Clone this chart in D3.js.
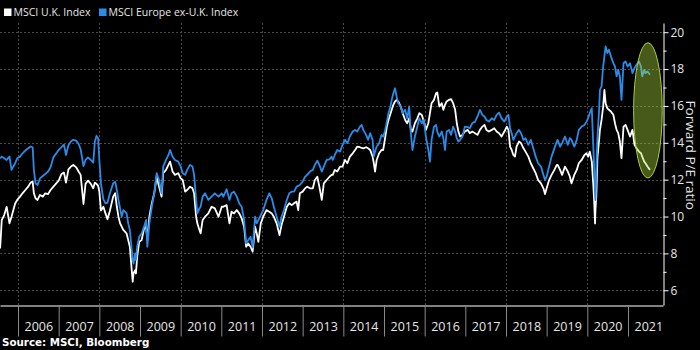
<!DOCTYPE html>
<html><head><meta charset="utf-8">
<script src="https://cdn.jsdelivr.net/npm/d3@7"></script>
<style>
html,body{margin:0;padding:0;background:#000;}
svg{display:block;}
</style></head><body>
<svg id="chart" width="700" height="350"></svg>
<script>
// ---- data (decimal years, forward P/E) ----
const dates = [2005.56,2005.60,2005.66,2005.72,2005.79,2005.84,2005.93,2005.98,2006.05,2006.11,2006.18,2006.25,2006.31,2006.36,2006.39,2006.43,2006.48,2006.54,2006.61,2006.67,2006.74,2006.80,2006.87,2006.93,2007.00,2007.07,2007.13,2007.18,2007.24,2007.30,2007.36,2007.43,2007.49,2007.54,2007.61,2007.66,2007.72,2007.79,2007.85,2007.89,2007.93,2007.97,2008.00,2008.04,2008.10,2008.15,2008.20,2008.26,2008.34,2008.39,2008.43,2008.47,2008.51,2008.55,2008.59,2008.63,2008.67,2008.71,2008.75,2008.79,2008.82,2008.84,2008.88,2008.90,2008.93,2008.98,2009.04,2009.10,2009.15,2009.18,2009.23,2009.29,2009.35,2009.41,2009.47,2009.53,2009.57,2009.64,2009.70,2009.74,2009.80,2009.86,2009.94,2010.00,2010.05,2010.11,2010.16,2010.23,2010.29,2010.33,2010.38,2010.41,2010.46,2010.49,2010.54,2010.60,2010.68,2010.76,2010.84,2010.93,2011.01,2011.05,2011.13,2011.20,2011.25,2011.31,2011.38,2011.44,2011.50,2011.56,2011.61,2011.66,2011.72,2011.77,2011.83,2011.87,2011.91,2011.97,2012.03,2012.11,2012.18,2012.24,2012.29,2012.36,2012.43,2012.48,2012.54,2012.61,2012.67,2012.73,2012.79,2012.85,2012.89,2012.93,2013.00,2013.06,2013.11,2013.18,2013.25,2013.30,2013.36,2013.41,2013.47,2013.52,2013.59,2013.66,2013.71,2013.74,2013.79,2013.85,2013.92,2013.98,2014.04,2014.10,2014.16,2014.23,2014.29,2014.34,2014.41,2014.45,2014.49,2014.56,2014.61,2014.66,2014.72,2014.75,2014.78,2014.82,2014.88,2014.94,2014.98,2015.02,2015.07,2015.11,2015.15,2015.19,2015.23,2015.27,2015.31,2015.35,2015.41,2015.46,2015.52,2015.57,2015.62,2015.66,2015.70,2015.76,2015.82,2015.87,2015.93,2015.98,2016.03,2016.09,2016.13,2016.17,2016.23,2016.28,2016.31,2016.36,2016.42,2016.46,2016.50,2016.54,2016.60,2016.65,2016.70,2016.75,2016.79,2016.83,2016.87,2016.93,2016.99,2017.06,2017.11,2017.17,2017.24,2017.30,2017.36,2017.42,2017.47,2017.52,2017.58,2017.65,2017.71,2017.77,2017.83,2017.89,2017.96,2018.02,2018.06,2018.10,2018.14,2018.18,2018.22,2018.26,2018.32,2018.37,2018.43,2018.48,2018.55,2018.61,2018.67,2018.73,2018.79,2018.86,2018.92,2018.96,2019.00,2019.06,2019.12,2019.19,2019.25,2019.27,2019.33,2019.38,2019.45,2019.52,2019.57,2019.61,2019.68,2019.74,2019.79,2019.86,2019.93,2019.98,2020.02,2020.06,2020.11,2020.15,2020.17,2020.19,2020.20,2020.22,2020.25,2020.29,2020.31,2020.35,2020.39,2020.42,2020.45,2020.49,2020.53,2020.58,2020.64,2020.68,2020.72,2020.76,2020.80,2020.84,2020.89,2020.94,2020.99,2021.05,2021.11,2021.16,2021.21,2021.27,2021.32,2021.35,2021.40,2021.43,2021.48,2021.54];

const ukPE = [8.27,9.81,10.08,10.53,9.63,9.99,10.71,10.90,11.08,11.26,11.44,11.62,11.84,11.89,11.26,10.99,10.90,11.17,11.08,11.26,11.22,11.44,11.62,11.77,11.95,12.31,12.38,11.84,12.56,12.71,12.80,12.67,12.44,12.26,10.68,11.77,11.95,11.77,11.53,11.84,11.77,11.66,11.35,10.32,10.53,10.17,9.85,10.32,11.08,11.26,10.53,9.99,9.63,9.45,9.27,9.18,9.08,8.72,8.36,7.27,6.46,6.91,7.09,6.91,7.82,8.63,8.72,9.36,9.45,8.72,9.99,10.71,11.26,12.16,11.62,11.08,12.35,12.53,12.80,12.98,12.44,12.26,12.35,12.07,11.98,11.35,11.44,11.62,11.53,11.26,9.99,9.63,9.27,9.09,9.81,9.99,10.17,10.53,10.44,9.99,10.53,10.53,10.62,9.63,10.26,10.17,10.35,10.17,9.90,9.45,8.36,8.54,8.36,8.09,9.45,9.09,8.63,9.63,9.99,10.35,10.26,10.17,9.99,9.63,8.99,9.54,9.99,10.53,10.72,10.62,10.72,10.81,10.35,11.26,11.35,11.53,11.62,11.53,11.53,11.98,12.16,11.62,10.90,11.80,11.98,12.16,12.26,12.26,12.53,12.44,12.71,12.71,13.07,12.89,13.25,13.43,13.61,13.79,13.76,13.72,13.70,13.76,13.70,13.61,13.25,12.89,12.44,13.07,13.43,13.61,13.61,14.16,14.88,15.24,15.51,15.79,16.06,16.24,16.33,16.24,15.97,15.61,15.24,15.06,15.33,14.70,14.61,15.06,15.33,15.61,15.51,15.15,14.70,15.06,15.61,16.15,16.33,16.69,16.73,15.97,16.15,15.79,16.06,16.24,16.33,16.37,16.15,15.79,15.06,14.61,14.34,14.43,14.61,14.70,14.52,14.61,14.52,14.43,14.70,14.88,14.97,14.70,14.61,14.70,14.79,14.61,14.52,14.34,14.61,14.88,14.70,13.79,13.61,13.34,13.25,13.79,14.07,13.98,13.70,13.52,13.25,12.89,12.62,12.35,11.98,11.80,11.53,11.22,11.53,11.98,12.26,12.53,12.80,12.80,12.53,12.26,12.71,12.44,12.17,11.80,12.26,12.53,12.89,13.07,13.34,13.43,13.25,13.52,12.98,11.62,10.72,9.63,10.35,11.08,13.25,14.16,14.70,15.24,15.97,16.87,16.15,15.88,15.79,15.70,15.52,15.06,14.70,14.52,14.07,13.16,14.88,14.97,14.70,14.34,14.70,13.89,13.70,13.52,13.43,13.25,12.98,12.89,12.71,12.53];

const europePE = [13.16,13.25,13.16,13.07,13.25,12.53,12.89,13.16,13.25,13.43,13.58,13.70,13.80,13.76,12.53,11.80,11.71,12.07,12.20,12.31,12.44,12.67,13.21,13.40,13.61,13.76,13.90,13.34,13.87,14.07,14.16,14.12,13.94,13.65,12.74,13.07,13.21,13.07,12.93,14.07,14.37,14.25,13.07,11.77,10.93,10.71,10.75,11.26,11.80,11.89,11.44,10.90,10.44,9.99,10.35,10.26,10.17,9.63,9.27,8.36,7.64,7.45,8.00,7.64,8.36,8.90,9.08,9.45,9.81,8.36,9.63,10.53,11.26,12.35,11.98,11.26,12.71,13.07,13.34,13.61,13.25,13.07,12.98,12.71,12.35,12.26,12.53,12.80,12.71,12.26,10.90,10.17,10.44,10.53,11.08,11.26,10.90,11.08,11.26,11.08,11.26,11.08,11.48,10.90,11.26,11.35,11.08,10.71,10.53,9.81,8.54,8.72,8.90,8.32,9.99,9.63,9.81,10.08,10.35,10.90,11.26,10.99,10.53,9.99,9.45,9.99,10.35,10.90,11.26,11.35,11.35,11.62,11.66,11.71,11.89,12.16,12.26,12.44,12.53,12.80,13.03,12.80,12.44,12.71,13.07,13.10,13.25,13.07,13.34,13.61,13.52,13.89,14.16,13.98,14.34,14.61,14.70,14.61,14.88,14.97,14.70,14.43,14.16,14.52,14.16,13.25,13.52,13.80,13.98,14.43,14.34,14.61,15.15,15.61,15.88,16.33,16.69,16.96,16.51,16.15,15.97,15.61,15.79,15.33,15.97,14.52,13.61,14.34,14.88,15.33,15.06,15.24,14.34,13.61,12.98,14.16,14.88,14.97,14.61,14.34,14.61,14.25,13.61,14.61,14.70,14.43,14.88,14.61,14.25,14.07,14.16,14.34,14.88,14.85,14.79,15.06,15.15,15.43,15.79,15.51,15.43,15.24,15.15,15.33,15.24,15.51,15.64,15.33,15.15,15.43,15.51,14.79,14.52,14.16,14.34,14.52,14.70,14.52,14.16,14.25,13.89,14.16,13.70,13.25,12.89,12.71,12.26,11.98,12.16,12.71,13.25,13.70,14.07,14.16,13.79,13.98,14.34,13.89,14.25,14.16,13.79,14.16,14.70,14.88,14.97,15.15,15.34,15.61,15.88,13.61,12.53,11.44,10.90,12.53,14.34,15.79,16.87,17.06,18.14,18.69,19.23,18.87,19.05,18.69,18.32,18.14,17.60,17.96,17.60,16.33,18.32,18.41,18.14,18.32,17.78,18.05,18.23,18.41,18.14,17.60,17.96,17.78,17.87,17.69];

const seriesNames = ["MSCI U.K. Index", "MSCI Europe ex-U.K. Index"];
const seriesColors = ["#ffffff", "#2a8ce8"];
const yearLabels = [2006,2007,2008,2009,2010,2011,2012,2013,2014,2015,2016,2017,2018,2019,2020,2021];
const gridYears = [2006,2008,2010,2012,2014,2016,2018,2020];
const yTicks = [6,8,10,12,14,16,18,20];
const yMinorTicks = [7,9,11,13,15,17,19];
const yTitle = "Forward P/E ratio";
const sourceText = "Source: MSCI, Bloomberg";
// highlighted region (date centre, date half-width, value range)
const highlightDate = 2021.49, highlightHalfWidth = 0.352, highlightRange = [12.09, 19.43];

// ---- layout ----
const FONT = "'Open Sans', 'Noto Sans', sans-serif";
const plot = {left: 0, right: 663, top: 23, bottom: 305};
const svg = d3.select("#chart");
svg.append("rect").attr("width", 700).attr("height", 350).attr("fill", "#000");

const x = d3.scaleLinear().domain([2005.557, 2021.861]).range([plot.left, plot.right]);
const y = d3.scaleLinear().domain([5.2, 20.5]).range([plot.bottom, plot.top]);

// gridlines
const grid = svg.append("g").attr("stroke", "#4a4a4a").attr("stroke-width", 1).attr("stroke-dasharray", "2,2");
grid.selectAll("line.h").data(yTicks).join("line")
  .attr("x1", plot.left).attr("x2", plot.right)
  .attr("y1", d => Math.round(y(d)) + 0.5).attr("y2", d => Math.round(y(d)) + 0.5);
grid.selectAll("line.v").data(gridYears).join("line")
  .attr("x1", d => Math.round(x(d)) + 0.5).attr("x2", d => Math.round(x(d)) + 0.5)
  .attr("y1", plot.top).attr("y2", plot.bottom);

// series
const series = [
  {name: seriesNames[0], color: seriesColors[0], values: ukPE},
  {name: seriesNames[1], color: seriesColors[1], values: europePE}
];
const line = d3.line().x((d, i) => x(dates[i])).y(d => y(d));
svg.append("g").selectAll("path").data(series).join("path")
  .attr("fill", "none")
  .attr("stroke", d => d.color)
  .attr("stroke-width", 1.8)
  .attr("stroke-linejoin", "round")
  .attr("d", d => line(d.values));

// highlight ellipse
svg.append("ellipse")
  .attr("cx", x(highlightDate))
  .attr("cy", (y(highlightRange[0]) + y(highlightRange[1])) / 2)
  .attr("rx", x(highlightDate + highlightHalfWidth) - x(highlightDate))
  .attr("ry", (y(highlightRange[0]) - y(highlightRange[1])) / 2)
  .attr("fill", "rgb(180,225,62)").attr("fill-opacity", 0.4)
  .attr("stroke", "#a8cc3c").attr("stroke-width", 1);

// right axis
const yAxis = svg.append("g").attr("transform", `translate(${plot.right + 0.5},0)`)
  .call(d3.axisRight(y).tickValues(yTicks).tickSize(5).tickSizeOuter(0).tickPadding(2));
yAxis.select(".domain").attr("stroke", "#fff");
yAxis.selectAll(".tick line").attr("stroke", "#fff");
yAxis.selectAll(".tick text").attr("fill", "#e6e6e6").attr("font-family", FONT).attr("font-size", 12);
const yMinor = svg.append("g").attr("transform", `translate(${plot.right + 0.5},0)`)
  .call(d3.axisRight(y).tickValues(yMinorTicks).tickSize(3).tickFormat(""));
yMinor.select(".domain").remove();
yMinor.selectAll(".tick line").attr("stroke", "#fff");

// bottom axis: separators and labels
const xAxis = svg.append("g").attr("transform", `translate(0,${plot.bottom + 0.5})`)
  .call(d3.axisBottom(x).tickValues(yearLabels).tickSize(31).tickSizeOuter(0).tickFormat(""));
xAxis.select(".domain").attr("stroke", "#fff").attr("stroke-width", 1.2);
xAxis.selectAll(".tick line").attr("stroke", "#8a8a8a");
const xLabels = svg.append("g").attr("transform", `translate(0,${plot.bottom})`)
  .call(d3.axisBottom(x).tickValues(yearLabels.map(v => v + 0.5)).tickSize(0).tickPadding(17)
    .tickFormat(v => String(Math.floor(v))));
xLabels.select(".domain").remove();
xLabels.selectAll(".tick text").attr("fill", "#e6e6e6").attr("font-family", FONT).attr("font-size", 12.5);

// y title
svg.append("text")
  .attr("transform", `translate(686,${(y(16) + y(10)) / 2 - 6}) rotate(90)`)
  .attr("text-anchor", "middle")
  .attr("fill", "#e6e6e6").attr("font-family", FONT).attr("font-size", 13.5)
  .text(yTitle);

// legend
const legend = svg.append("g").attr("font-family", FONT).attr("font-size", 10.5);
const legendX = [4, 99];
series.forEach((s, i) => {
  legend.append("rect").attr("x", legendX[i]).attr("y", 8.5).attr("width", 7.5).attr("height", 7.5).attr("fill", s.color);
  legend.append("text").attr("x", legendX[i] + 9.5).attr("y", 16).attr("fill", "#e6e6e6").text(s.name);
});

// source
svg.append("text").attr("x", 2).attr("y", 346)
  .attr("fill", "#fff").attr("font-family", "'DejaVu Sans', Verdana, sans-serif").attr("font-size", 10.3).attr("font-weight", "bold")
  .text(sourceText);
</script>
</body></html>
